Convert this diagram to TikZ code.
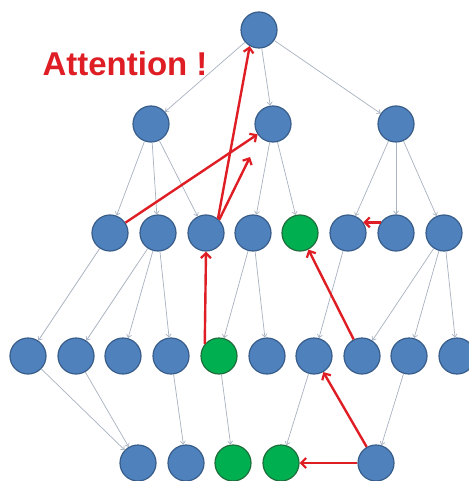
\documentclass[tikz,border=0pt]{standalone}
\usepackage{fontspec}
\setmainfont{Liberation Sans}
\usetikzlibrary{arrows.meta}
\definecolor{nodeblue}{RGB}{79,129,189}
\definecolor{nodeblueline}{RGB}{56,93,138}
\definecolor{nodegreen}{RGB}{0,176,80}
\definecolor{nodegreenline}{RGB}{30,110,60}
\definecolor{edgegray}{RGB}{168,178,192}
\definecolor{attred}{RGB}{222,30,36}
\tikzset{
  vtx/.style={circle, minimum size=36pt, inner sep=0pt, fill=nodeblue, draw=nodeblueline, line width=1.2pt},
  hit/.style={vtx, fill=nodegreen, draw=nodegreenline},
  edge/.style={draw=edgegray, line width=0.7pt, -{Straight Barb[length=3pt,width=5pt]}},
  attn/.style={draw=attred, line width=2.4pt, -{Straight Barb[length=5pt,width=10pt,line width=2.2pt]}}
}
\begin{document}
\begin{tikzpicture}[x=1pt,y=-1pt]
\useasboundingbox (0,0) rectangle (468,481);
\fill[white] (0,0) rectangle (468,481);

% root
\node[vtx] (top) at (259,30) {};
% level 1
\node[vtx] (Aa) at (151,124) {};
\node[vtx] (Ab) at (273,124) {};
\node[vtx] (Ac) at (396,124) {};
% level 2
\node[vtx] (Ba) at (110,233) {};
\node[vtx] (Bb) at (158,233) {};
\node[vtx] (Bc) at (206,233) {};
\node[vtx] (Bd) at (253,233) {};
\node[hit] (Be) at (300,233) {};
\node[vtx] (Bf) at (348,233) {};
\node[vtx] (Bg) at (396,233) {};
\node[vtx] (Bh) at (444,233) {};
% level 3
\node[vtx] (Ca) at (28,356) {};
\node[vtx] (Cb) at (76,356) {};
\node[vtx] (Cc) at (123,356) {};
\node[vtx] (Cd) at (171,356) {};
\node[hit] (Ce) at (219,356) {};
\node[vtx] (Cf) at (267,356) {};
\node[vtx] (Cg) at (314,356) {};
\node[vtx] (Ch) at (362,356) {};
\node[vtx] (Ci) at (409,356) {};
\node[vtx] (Cj) at (457,356) {};
% level 4
\node[vtx] (Da) at (138,463) {};
\node[vtx] (Db) at (186,463) {};
\node[hit] (Dc) at (233,463) {};
\node[hit] (Dd) at (281,463) {};
\node[vtx] (De) at (376,463) {};

% tree edges
\foreach \s/\t in {top/Aa, top/Ab, top/Ac,
  Aa/Ba, Aa/Bb, Aa/Bc, Ab/Bd, Ab/Be, Ac/Bf, Ac/Bg, Ac/Bh,
  Ba/Ca, Bb/Cb, Bb/Cc, Bb/Cd, Bd/Ce, Bd/Cf, Bf/Cg, Bh/Ch, Bh/Ci, Bh/Cj,
  Ca/Da, Cb/Da, Cd/Db, Ce/Dc, Cg/Dd, Ci/De}
  \draw[edge] (\s) -- (\t);

% attention paths
\coordinate (short) at (250,157);
\draw[attn] (De) -- (Dd);
\draw[attn] (De) -- (Cg);
\draw[attn] (Ch) -- (Be);
\draw[attn] (Ce.140) -- (Bc.south);
\draw[attn] (Ba) -- (Ab);
\draw[attn] (Bc.50) -- (top.240);
\draw[attn] (Bc.45) -- (short);
\draw[attn] (Bg.145) -- (Bf.35);

\node[text=attred, font=\bfseries\fontsize{33}{36}\selectfont, anchor=base west] (att) at (39,76) {Attention !};
\end{tikzpicture}
\end{document}
